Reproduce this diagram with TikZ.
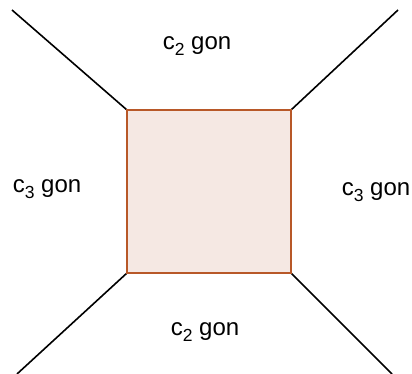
\documentclass[tikz,border=0pt]{standalone}
\usepackage{fontspec}
\setmainfont{Liberation Sans}
\definecolor{sqfill}{RGB}{245,232,227}
\definecolor{sqedge}{RGB}{184,88,40}
\newcommand{\lowsub}[1]{\raisebox{-0.28em}{\fontsize{17.5}{20}\selectfont #1}}
\begin{document}
\begin{tikzpicture}[x=1pt,y=-1pt,
  edge/.style={draw=black,line width=1.6pt},
  sq/.style={draw=sqedge,fill=sqfill,line width=1.6pt},
  lab/.style={font=\fontsize{24}{28}\selectfont,inner sep=0pt}]
\useasboundingbox (0,0) rectangle (412,374);
\coordinate (tl) at (127,110);
\coordinate (tr) at (291,110);
\coordinate (bl) at (127,273);
\coordinate (br) at (291,273);
\coordinate (etl) at (12,10);
\coordinate (etr) at (398,10);
\coordinate (ebl) at (17,374);
\coordinate (ebr) at (392,374);
\draw[edge] (etl) -- (tl);
\draw[edge] (etr) -- (tr);
\draw[edge] (ebl) -- (bl);
\draw[edge] (ebr) -- (br);
\path[sq] (tl) rectangle (br);
\node[lab] (top) at (197,46) {c\lowsub{2} gon};
\node[lab] (bot) at (205,332) {c\lowsub{2} gon};
\node[lab] (lft) at (47,189) {c\lowsub{3} gon};
\node[lab] (rgt) at (376,192) {c\lowsub{3} gon};
\end{tikzpicture}
\end{document}
